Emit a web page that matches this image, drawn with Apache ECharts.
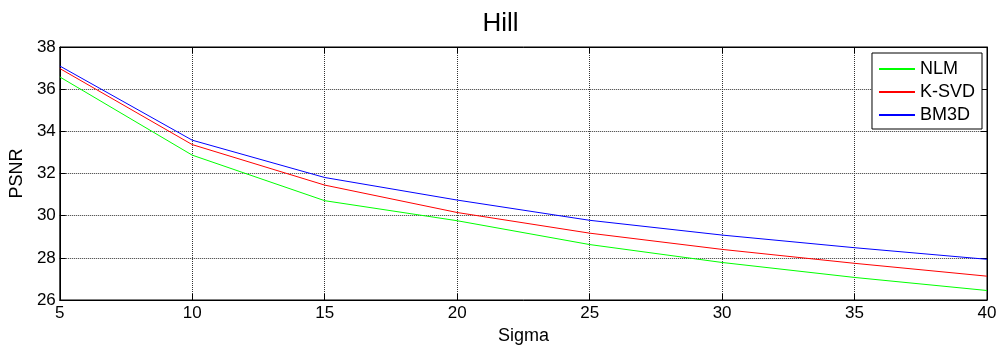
<!DOCTYPE html>
<html><head><meta charset="utf-8">
<script src="https://cdn.jsdelivr.net/npm/echarts@6/dist/echarts.min.js"></script>
<style>html,body{margin:0;padding:0;background:#fff}#c{width:1001px;height:350px}</style>
</head><body><div id="c"></div>
<script>
const sigma = [5, 10, 15, 20, 25, 30, 35, 40];
const nlm   = [36.58, 32.87, 30.71, 29.76, 28.63, 27.78, 27.07, 26.45];
const ksvd  = [36.98, 33.37, 31.45, 30.15, 29.17, 28.40, 27.74, 27.13];
const bm3d  = [37.10, 33.58, 31.81, 30.74, 29.78, 29.08, 28.48, 27.93];
const seriesNames = ['NLM', 'K-SVD', 'BM3D'];
const colors = ['#00ff00', '#ff0000', '#0000ff'];
const font = 'Liberation Sans, Arial, Helvetica, sans-serif';

const chart = echarts.init(document.getElementById('c'));
const mk = (arr) => sigma.map((s, i) => [s, arr[i]]);
const tickStyle = {lineStyle: {color: '#000', width: 1}, inside: true, length: 6};
chart.setOption({
  animation: false,
  title: {text: 'Hill', left: 'center', top: 6, textStyle: {fontFamily: font, fontSize: 26, fontWeight: 'normal', color: '#000'}},
  grid: {left: 59, right: 14, top: 47, bottom: 50, show: true, borderColor: '#000', borderWidth: 1},
  legend: {
    orient: 'vertical', right: 19, top: 53, data: seriesNames,
    backgroundColor: '#fff', borderColor: '#000', borderWidth: 1,
    padding: [7, 7, 5, 6], itemGap: 5, itemWidth: 36, itemHeight: 18,
    itemStyle: {opacity: 0},
    textStyle: {fontFamily: font, fontSize: 18, color: '#000'}
  },
  xAxis: [{
    type: 'value', min: 5, max: 40, interval: 5,
    name: 'Sigma', nameLocation: 'middle', nameGap: 27,
    nameTextStyle: {fontFamily: font, fontSize: 18, color: '#000'},
    axisLine: {onZero: false, lineStyle: {color: '#000'}}, axisTick: tickStyle,
    axisLabel: {fontFamily: font, fontSize: 17, color: '#000', margin: 5},
    splitLine: {show: true, lineStyle: {color: '#333', type: [1, 1], width: 1}}
  }, {
    type: 'value', position: 'top', min: 5, max: 40, interval: 5,
    axisLine: {lineStyle: {color: '#000'}}, axisTick: tickStyle,
    axisLabel: {show: false}, splitLine: {show: false}
  }],
  yAxis: [{
    type: 'value', min: 26, max: 38, interval: 2,
    name: 'PSNR', nameLocation: 'middle', nameGap: 33,
    nameTextStyle: {fontFamily: font, fontSize: 18, color: '#000'},
    axisLine: {show: true, lineStyle: {color: '#000'}}, axisTick: tickStyle,
    axisLabel: {fontFamily: font, fontSize: 17, color: '#000', margin: 4},
    splitLine: {show: true, lineStyle: {color: '#333', type: [1, 1], width: 1}}
  }, {
    type: 'value', position: 'right', min: 26, max: 38, interval: 2,
    axisLine: {show: true, lineStyle: {color: '#000'}}, axisTick: tickStyle,
    axisLabel: {show: false}, splitLine: {show: false}
  }],
  series: [nlm, ksvd, bm3d].map((d, i) => ({
    name: seriesNames[i], type: 'line', data: mk(d), symbol: 'none',
    lineStyle: {color: colors[i], width: 1}, itemStyle: {color: colors[i]}
  }))
});
</script></body></html>
